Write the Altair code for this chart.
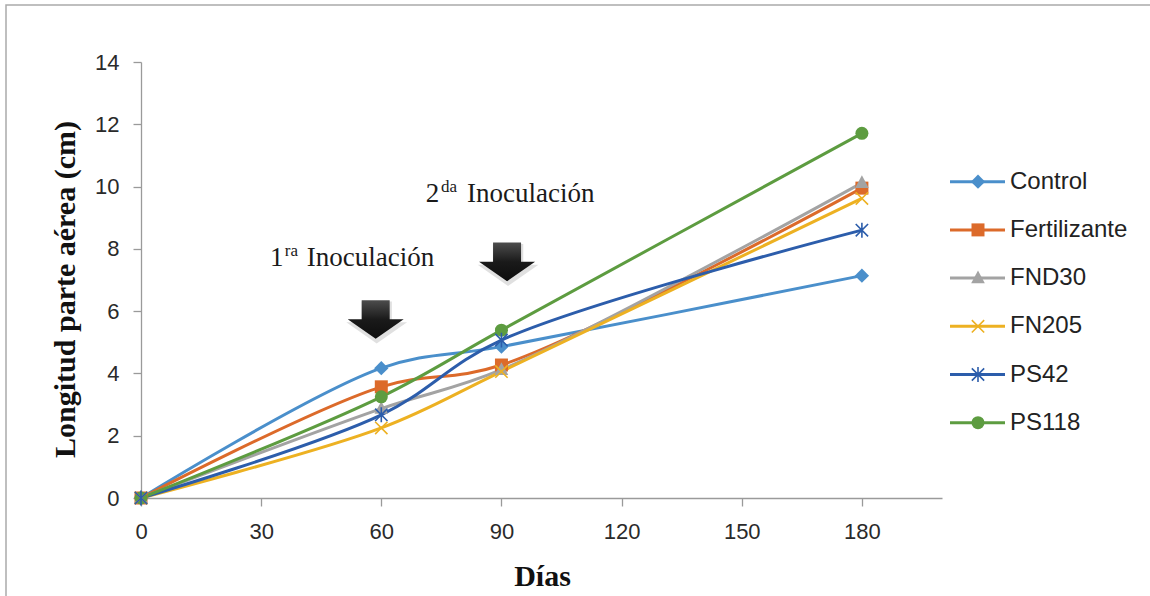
import altair as alt
import pandas as pd

# ---- data ----
days = [0, 60, 90, 180]
series_names = ["Control", "Fertilizante", "FND30", "FN205", "PS42", "PS118"]
control = [0, 4.17, 4.86, 7.14]
fertilizante = [0, 3.57, 4.27, 9.95]
fnd30 = [0, 2.87, 4.12, 10.12]
fn205 = [0, 2.25, 4.06, 9.62]
ps42 = [0, 2.67, 5.07, 8.60]
ps118 = [0, 3.25, 5.39, 11.71]
values = [control, fertilizante, fnd30, fn205, ps42, ps118]

colors = ["#4A8FCB", "#DC6A2A", "#A3A3A3", "#EDB122", "#2C5DAB", "#5D9C40"]
shapes = [
    "M 0 -1.1 L 1.1 0 L 0 1.1 L -1.1 0 Z",
    "M -1 -1 L 1 -1 L 1 1 L -1 1 Z",
    "M 0 -1.15 L 1.05 0.8 L -1.05 0.8 Z",
    "M -0.95 -0.95 L 0.95 0.95 M -0.95 0.95 L 0.95 -0.95",
    "M -0.95 -0.95 L 0.95 0.95 M -0.95 0.95 L 0.95 -0.95 M 0 -1.15 L 0 1.15",
    "circle",
]
filled_series = ["Control", "Fertilizante", "FND30", "PS118"]
stroked_series = ["FN205", "PS42"]

# annotations
ann_text = ["1", "ra", "Inoculación", "2", "da", "Inoculación"]
ann_x = [32.2, 35.9, 41.4, 71.1, 74.9, 81.4]
ann_y = [7.45, 7.77, 7.45, 9.51, 9.83, 9.51]
ann_size = [27, 17, 27, 27, 17, 27]

arrow_x = [58.6, 91.4]
arrow_y = [5.74, 7.59]

rows = []
for name, vals in zip(series_names, values):
    for d, v in zip(days, vals):
        rows.append({"series": name, "x": d, "y": v})
df = pd.DataFrame(rows)

color_scale = alt.Scale(domain=series_names, range=colors)
shape_scale = alt.Scale(domain=series_names, range=shapes)

W, H = 801, 436


def X():
    return alt.X(
        "x:Q",
        scale=alt.Scale(domain=[0, 200], nice=False, zero=False),
        axis=alt.Axis(
            values=[0, 30, 60, 90, 120, 150, 180],
            title="Días",
            grid=False,
            labelFlush=False,
            titleX=401,
            titleY=78,
            titleAlign="center",
            titleBaseline="middle",
        ),
    )


def Y():
    return alt.Y(
        "y:Q",
        scale=alt.Scale(domain=[0, 14], nice=False),
        axis=alt.Axis(
            values=[0, 2, 4, 6, 8, 10, 12, 14],
            title="Longitud parte aérea (cm)",
            grid=False,
            labelFlush=False,
            titleX=-76,
            titleY=227,
            titleAngle=-90,
            titleAlign="center",
            titleBaseline="middle",
        ),
    )


color_enc = alt.Color("series:N", scale=color_scale, legend=None)
shape_enc = alt.Shape("series:N", scale=shape_scale, legend=None)

lines = alt.Chart(df).mark_line(interpolate="catmull-rom", strokeWidth=3).encode(
    x=X(), y=Y(), color=color_enc, detail="series:N"
)

pts_fill = (
    alt.Chart(df)
    .transform_filter(alt.FieldOneOfPredicate(field="series", oneOf=filled_series))
    .mark_point(filled=True, size=169, opacity=1, strokeWidth=0)
    .encode(x=X(), y=Y(), color=color_enc, shape=shape_enc)
)
pts_stroke = (
    alt.Chart(df)
    .transform_filter(alt.FieldOneOfPredicate(field="series", oneOf=stroked_series))
    .mark_point(filled=False, size=169, opacity=1, strokeWidth=1.6)
    .encode(x=X(), y=Y(), color=color_enc, shape=shape_enc)
)

arrow_df = pd.DataFrame({"x": arrow_x, "y": arrow_y})
arrow_path = "M -0.5 -0.68 L 0.5 -0.68 L 0.5 0 L 1 0 L 0 0.7 L -1 0 L -0.5 0 Z"
arrow_shadow = alt.Chart(arrow_df).mark_point(
    shape=arrow_path, size=3700, filled=True, color="#000000", opacity=0.12,
    strokeWidth=0, yOffset=3, xOffset=1
).encode(x=X(), y=Y())
arrows = alt.Chart(arrow_df).mark_point(
    shape=arrow_path,
    size=3136,
    filled=True,
    opacity=1,
    strokeWidth=0,
    color=alt.Gradient(
        gradient="linear",
        stops=[
            alt.GradientStop(color="#4d4d4d", offset=0),
            alt.GradientStop(color="#1a1a1a", offset=0.5),
            alt.GradientStop(color="#0d0d0d", offset=1),
        ],
        x1=0, x2=0, y1=0, y2=1,
    ),
).encode(x=X(), y=Y())

ann_df = pd.DataFrame({"x": ann_x, "y": ann_y, "t": ann_text, "fs": ann_size})
ann = alt.Chart(ann_df).mark_text(
    font="Liberation Serif", align="left", baseline="alphabetic", color="#1a1a1a"
).encode(x=X(), y=Y(), text="t:N", size=alt.Size("fs:Q", scale=None, legend=None))

frame = alt.Chart(pd.DataFrame({"a": [0]})).mark_rect(
    filled=False, stroke="#ababab", strokeWidth=1.5
).encode(x=alt.value(-135), x2=alt.value(1030), y=alt.value(-57), y2=alt.value(560))

main = alt.layer(frame, arrow_shadow, arrows, ann, lines, pts_fill, pts_stroke)

# ---- manual legend (line + marker), placed to the right of the plot ----
leg_df = pd.DataFrame({"series": series_names, "row": list(range(len(series_names)))})
LY = alt.Y("row:Q", scale=alt.Scale(domain=[-2.483, 6.562], reverse=True, nice=False, zero=False), axis=None)
leg_rule = alt.Chart(leg_df).mark_rule(strokeWidth=3).encode(
    x=alt.value(809), x2=alt.value(864), y=LY, color=color_enc
)
leg_fill = (
    alt.Chart(leg_df)
    .transform_filter(alt.FieldOneOfPredicate(field="series", oneOf=filled_series))
    .mark_point(filled=True, size=169, opacity=1, strokeWidth=0)
    .encode(x=alt.value(837), y=LY, color=color_enc, shape=shape_enc)
)
leg_stroke = (
    alt.Chart(leg_df)
    .transform_filter(alt.FieldOneOfPredicate(field="series", oneOf=stroked_series))
    .mark_point(filled=False, size=169, opacity=1, strokeWidth=1.6)
    .encode(x=alt.value(837), y=LY, color=color_enc, shape=shape_enc)
)
leg_text = alt.Chart(leg_df).mark_text(
    align="left", baseline="middle", font="Liberation Sans", fontSize=24, color="#222222"
).encode(x=alt.value(869), y=LY, text="series:N")
legend = alt.layer(leg_rule, leg_fill, leg_stroke, leg_text)

chart = (
    alt.layer(main, legend)
    .resolve_scale(y="independent")
    .properties(
        width=W,
        height=H,
        autosize="none",
        padding={"left": 141, "top": 62, "right": 208, "bottom": 98},
        background="white",
    )
    .configure_view(stroke=None)
    .configure_axis(
        domainColor="#9a9a9a",
        domainWidth=1.3,
        tickColor="#9a9a9a",
        tickWidth=1.3,
        tickSize=8,
        labelFont="Liberation Sans",
        labelFontSize=22,
        labelColor="#2a2a2a",
        titleFont="Liberation Serif",
        titleFontSize=30,
        titleFontWeight="bold",
        titleColor="#111111",
    )
    .configure_axisY(labelPadding=14)
    .configure_axisX(labelPadding=15)
)

chart.save("out.html", embed_options={"renderer": "svg", "actions": False})
